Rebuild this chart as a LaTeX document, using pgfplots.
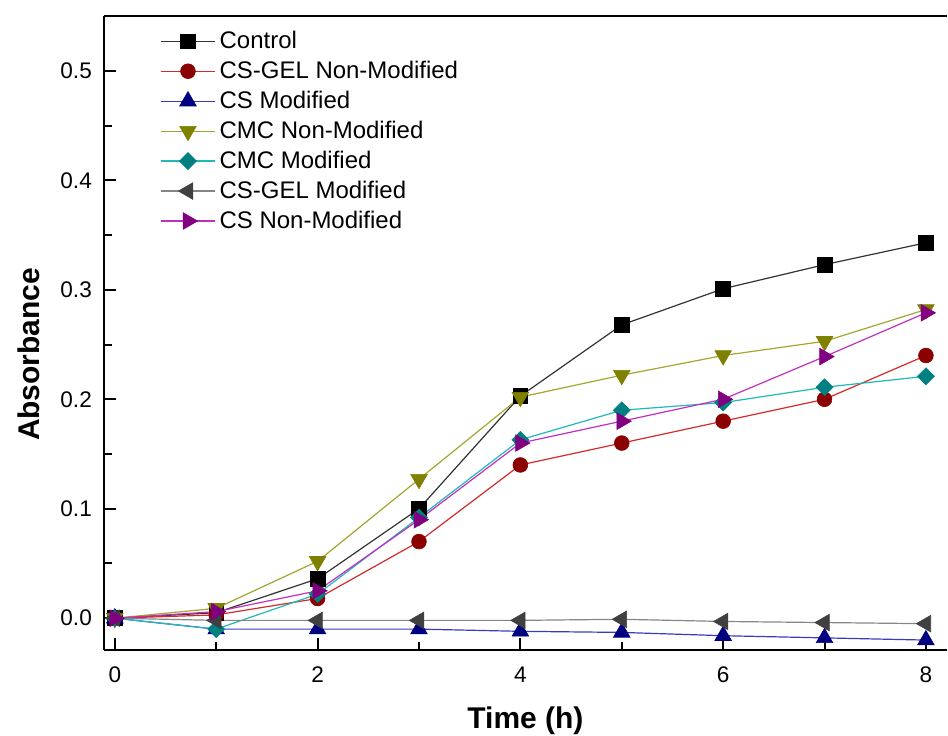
\documentclass[border=0pt]{standalone}
\usepackage{fontspec}
\setmainfont{Liberation Sans}
\usepackage{pgfplots}
\pgfplotsset{compat=1.18}
\definecolor{cCtrlL}{HTML}{333333}
\definecolor{cRedM}{HTML}{8B0000}
\definecolor{cRedL}{HTML}{D42A2A}
\definecolor{cBlueM}{HTML}{000080}
\definecolor{cBlueL}{HTML}{3A3AC0}
\definecolor{cOlM}{HTML}{808000}
\definecolor{cOlL}{HTML}{A5A530}
\definecolor{cTeM}{HTML}{008080}
\definecolor{cTeL}{HTML}{20B8B8}
\definecolor{cGrM}{HTML}{404040}
\definecolor{cGrL}{HTML}{858585}
\definecolor{cMaM}{HTML}{800080}
\definecolor{cMaL}{HTML}{C030C0}
\begin{document}
\begin{tikzpicture}
\begin{axis}[
  scale only axis,
  width=422pt, height=317.5pt,
  xmin=-0.108, xmax=8.207,
  ymin=-0.029, ymax=0.5505,
  axis x line*=box, axis y line*=left,
  axis line style={line width=1.1pt,-},
  xtick={0,2,4,6,8}, minor xtick={1,3,5,7},
  ytick={0,0.1,0.2,0.3,0.4,0.5}, minor ytick={0.05,0.15,0.25,0.35,0.45},
  xtick pos=left, ytick pos=left,
  tick align=inside,
  major tick length=6pt, minor tick length=4pt,
  every tick/.style={black, line width=1pt},
  /pgf/number format/assume math mode=true,
  tick label style={font=\fontsize{11.3}{13}\selectfont},
  xticklabel style={yshift=-5pt},
  yticklabel style={xshift=-2.5pt, /pgf/number format/.cd, fixed, fixed zerofill, precision=1},
  xlabel={\textbf{Time (h)}},
  ylabel={\textbf{Absorbance}},
  xlabel style={font=\fontsize{15}{18}\selectfont, at={(rel axis cs:0.5,0)}, anchor=north, inner sep=0pt, yshift=-28.5pt},
  every axis y label/.style={font=\fontsize{15}{18}\selectfont, at={(rel axis cs:0,0.466)}, xshift=-32pt, rotate=90, anchor=south, inner sep=0pt},
  legend cell align=left,
  legend style={at={(rel axis cs:0.066,0.982)}, anchor=north west, draw=none, fill=none,
    font=\fontsize{12}{13}\selectfont, inner sep=0pt, row sep=1.2pt,
    nodes={inner sep=1.8pt}},
  legend image code/.code={\draw[mark repeat=2,mark phase=2] plot coordinates {(0pt,0pt) (13.75pt,0pt) (27.5pt,0pt)};},
  every axis plot/.append style={line width=0.6pt},
  clip=false,
]
\addplot[color=cCtrlL, mark=square*, mark size=3.7pt, mark options={fill=black, draw=black, line width=0.3pt}]
  coordinates {(0,0) (1,0.005) (2,0.036) (3,0.100) (4,0.203) (5,0.268) (6,0.301) (7,0.323) (8,0.343)};
\addlegendentry{Control}
\addplot[color=cRedL, mark=*, mark size=3.7pt, mark options={fill=cRedM, draw=cRedM, line width=0.3pt}]
  coordinates {(0,0) (1,0.003) (2,0.018) (3,0.070) (4,0.140) (5,0.160) (6,0.180) (7,0.200) (8,0.240)};
\addlegendentry{CS-GEL Non-Modified}
\addplot[color=cBlueL, mark=triangle*, mark size=4.8pt, mark options={fill=cBlueM, draw=cBlueM, line width=0.3pt}]
  coordinates {(0,0) (1,-0.010) (2,-0.010) (3,-0.010) (4,-0.012) (5,-0.013) (6,-0.016) (7,-0.018) (8,-0.020)};
\addlegendentry{CS Modified}
\addplot[color=cOlL, mark=triangle*, mark size=4.8pt, mark options={rotate=180, fill=cOlM, draw=cOlM, line width=0.3pt}]
  coordinates {(0,0) (1,0.009) (2,0.052) (3,0.127) (4,0.202) (5,0.222) (6,0.240) (7,0.253) (8,0.282)};
\addlegendentry{CMC Non-Modified}
\addplot[color=cTeL, mark=square*, mark size=3.0pt, mark options={rotate=45, fill=cTeM, draw=cTeM, line width=0.3pt}]
  coordinates {(0,0) (1,-0.010) (2,0.022) (3,0.092) (4,0.163) (5,0.190) (6,0.197) (7,0.211) (8,0.221)};
\addlegendentry{CMC Modified}
\addplot[color=cGrL, mark=triangle*, mark size=4.8pt, mark options={rotate=90, fill=cGrM, draw=cGrM, line width=0.3pt}]
  coordinates {(0,0) (1,-0.002) (2,-0.002) (3,-0.002) (4,-0.002) (5,-0.001) (6,-0.003) (7,-0.004) (8,-0.005)};
\addlegendentry{CS-GEL Modified}
\addplot[color=cMaL, mark=triangle*, mark size=4.8pt, mark options={rotate=-90, fill=cMaM, draw=cMaM, line width=0.3pt}]
  coordinates {(0,0) (1,0.006) (2,0.025) (3,0.090) (4,0.160) (5,0.180) (6,0.200) (7,0.239) (8,0.279)};
\addlegendentry{CS Non-Modified}
\path (rel axis cs:0,1) ++(-52pt,7.85pt) coordinate (bbTL);
\end{axis}
\path (bbTL) rectangle ++(0.1pt,-0.1pt);
\end{tikzpicture}
\end{document}
